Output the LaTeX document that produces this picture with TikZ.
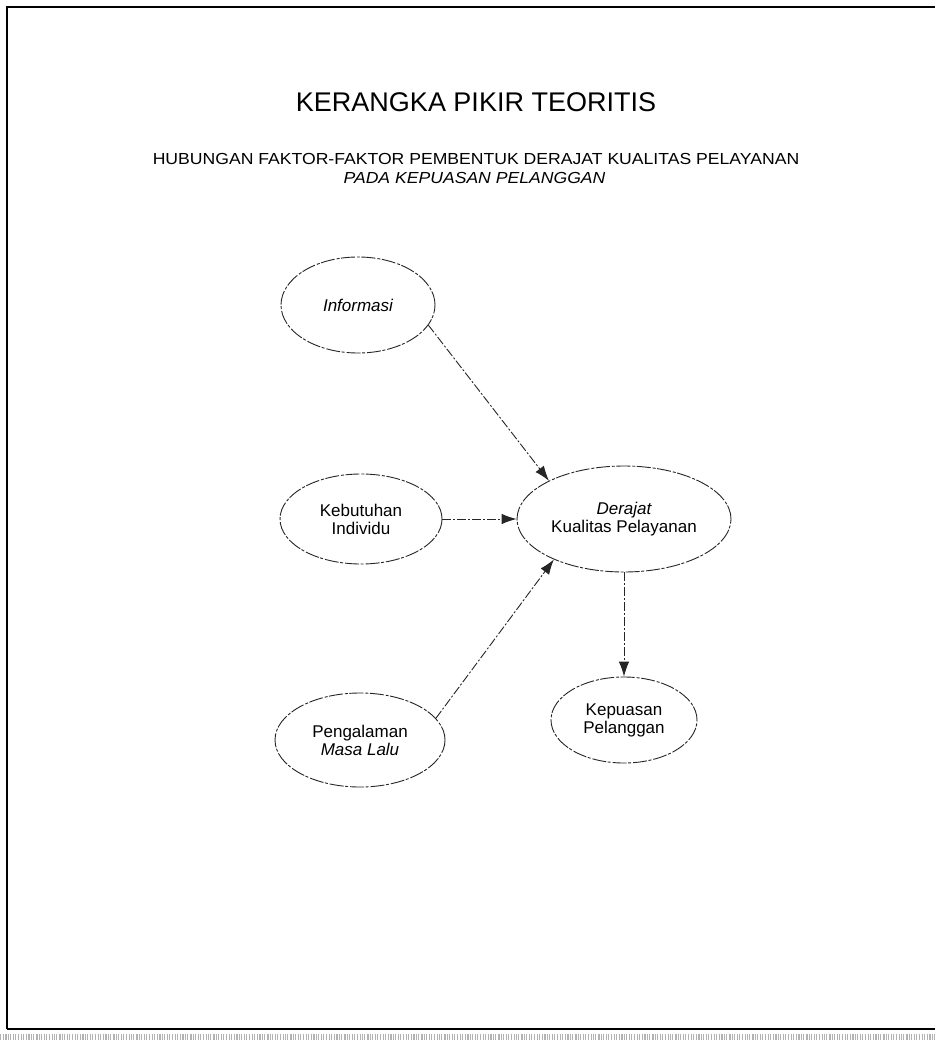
\documentclass[tikz,border=0pt]{standalone}
\usepackage{fontspec}
\setmainfont{Liberation Sans}
\newfontfamily\subfont[FakeStretch=1.1]{Liberation Sans}
\usetikzlibrary{shapes.geometric,arrows.meta}
\begin{document}
\begin{tikzpicture}[x=1pt,y=-1pt,
  bubble/.style={ellipse, draw=black!85, line width=0.9pt,
    dash pattern=on 14pt off 1.5pt on 3pt off 2pt, inner sep=0pt,
    align=center, font=\fontsize{17}{18}\selectfont},
  link/.style={draw=black!85, line width=0.9pt,
    dash pattern=on 9pt off 2pt on 2pt off 2pt,
    -{Latex[length=15pt,width=10.5pt]}},
  frameline/.style={draw=black, line width=1.6pt}]
\useasboundingbox (0,0) rectangle (935,1040);
\fill[white] (0,0) rectangle (935,1040);

% page frame
\coordinate (tl) at (7,7);
\coordinate (tr) at (935,7);
\coordinate (bl) at (7,1029);
\coordinate (br) at (935,1029);
\draw[frameline] (tr) -- (tl) -- (bl);
\draw[draw=black, line width=2.6pt] (bl) -- (br);
\draw[gray!60, line width=6pt, dash pattern=on 1pt off 1.5pt on 0.6pt off 2.2pt on 1.4pt off 1pt]
  (0,1036.5) -- (935,1036.5);

% headings
\node[anchor=base, font=\fontsize{27}{30}\selectfont] (title) at (476,112)
  {KERANGKA PIKIR TEORITIS};
\node[anchor=base, font=\subfont\fontsize{16}{19}\selectfont] (sub1) at (476,165)
  {HUBUNGAN FAKTOR-FAKTOR PEMBENTUK DERAJAT KUALITAS PELAYANAN};
\node[anchor=base, font=\subfont\itshape\fontsize{16}{19}\selectfont] (sub2) at (474.5,183.5)
  {PADA KEPUASAN PELANGGAN};

% factors
\node[bubble, minimum width=154pt, minimum height=96pt] (info) at (358,305) {\itshape Informasi};
\node[bubble, minimum width=162pt, minimum height=90pt] (keb) at (361,519) {Kebutuhan\\Individu};
\node[bubble, minimum width=214pt, minimum height=106pt] (der) at (624,519) {\itshape Derajat\\Kualitas Pelayanan};
\node[bubble, minimum width=170pt, minimum height=94pt] (peng) at (360,740) {Pengalaman\\\itshape Masa Lalu};
\node[bubble, minimum width=146pt, minimum height=86pt] (kep) at (624,720) {Kepuasan\\Pelanggan};

% relations
\draw[link] (info.-16) -- (der.153);
\draw[link] (keb.east) -- (der.west);
\draw[link] (peng.16) -- (der.210);
\draw[link] (der.south) -- (kep.north);
\end{tikzpicture}
\end{document}
